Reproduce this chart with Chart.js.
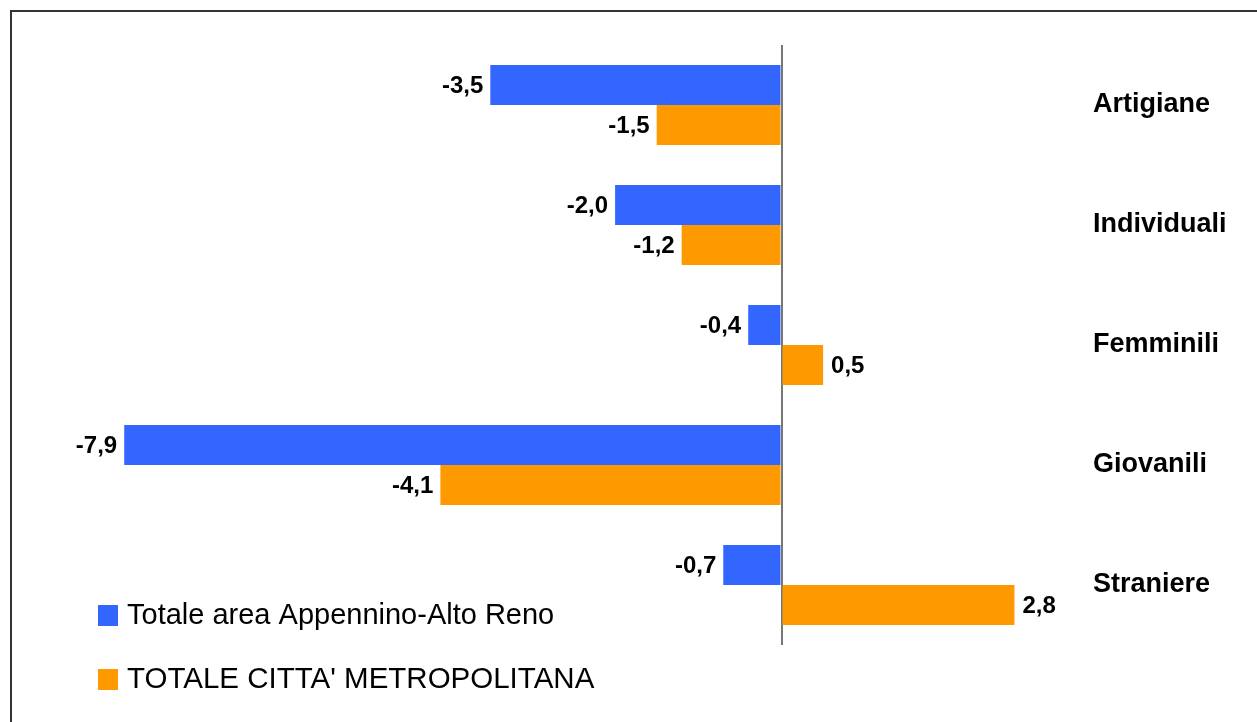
<!DOCTYPE html>
<html>
<head>
<meta charset="utf-8">
<script src="https://cdn.jsdelivr.net/npm/chart.js@4.4.1/dist/chart.umd.min.js"></script>
<style>
html,body{margin:0;padding:0;background:#fff;}
#wrap{position:relative;width:1257px;height:722px;}
canvas{display:block;}
</style>
</head>
<body>
<div id="wrap"><canvas id="c" width="1257" height="722"></canvas></div>
<script>
const categories = ['Artigiane', 'Individuali', 'Femminili', 'Giovanili', 'Straniere'];
const seriesNames = ['Totale area Appennino-Alto Reno', "TOTALE CITTA' METROPOLITANA"];
const areaValues = [-3.5, -2.0, -0.4, -7.9, -0.7];
const metroValues = [-1.5, -1.2, 0.5, -4.1, 2.8];
const colors = ['#3366FF', '#FF9900'];

const FONT = "'Liberation Sans', Arial, sans-serif";

const fmt = v => v.toFixed(1).replace('.', ',');

const framePlugin = {
  id: 'frame',
  beforeDraw(chart) {
    const ctx = chart.ctx;
    ctx.save();
    ctx.fillStyle = '#fff';
    ctx.fillRect(0, 0, chart.width, chart.height);
    ctx.strokeStyle = '#333';
    ctx.lineWidth = 2;
    ctx.beginPath();
    ctx.moveTo(11, chart.height + 5);
    ctx.lineTo(11, 11);
    ctx.lineTo(chart.width + 5, 11);
    ctx.stroke();
    ctx.restore();
  }
};

const labelPlugin = {
  id: 'valueLabels',
  afterDatasetsDraw(chart) {
    const ctx = chart.ctx;
    ctx.save();
    ctx.font = 'bold 24px ' + FONT;
    ctx.fillStyle = '#000';
    ctx.textBaseline = 'middle';
    chart.data.datasets.forEach((ds, di) => {
      const meta = chart.getDatasetMeta(di);
      meta.data.forEach((bar, i) => {
        const v = ds.data[i];
        const p = bar.getProps(['x', 'y', 'base'], true);
        if (v < 0) {
          ctx.textAlign = 'right';
          ctx.fillText(fmt(v), p.x - 7, p.y + 1);
        } else {
          ctx.textAlign = 'left';
          ctx.fillText(fmt(v), p.x + 8, p.y + 1);
        }
      });
    });
    ctx.restore();
  }
};

const legendPlugin = {
  id: 'customLegend',
  afterDraw(chart) {
    const ctx = chart.ctx;
    ctx.save();
    ctx.textBaseline = 'middle';
    ctx.textAlign = 'left';
    const ys = [605, 669];
    const sizes = [29, 29.5];
    chart.data.datasets.forEach((ds, i) => {
      ctx.fillStyle = ds.backgroundColor;
      ctx.fillRect(98, ys[i], 20, 21);
      ctx.fillStyle = '#000';
      ctx.font = sizes[i] + 'px ' + FONT;
      ctx.fillText(ds.label, 127, ys[i] + 11);
    });
    ctx.restore();
  }
};

new Chart(document.getElementById('c'), {
  type: 'bar',
  data: {
    labels: categories,
    datasets: [
      { label: seriesNames[0], data: areaValues, backgroundColor: colors[0], yAxisID: 'y' },
      { label: seriesNames[1], data: metroValues, backgroundColor: colors[1], yAxisID: 'y' }
    ]
  },
  options: {
    indexAxis: 'y',
    responsive: false,
    animation: false,
    devicePixelRatio: 1,
    categoryPercentage: 2 / 3,
    barPercentage: 1,
    layout: { padding: { left: 32.7, top: 45, bottom: 77, right: 0 } },
    plugins: { legend: { display: false }, tooltip: { enabled: false } },
    scales: {
      x: {
        min: -9,
        max: 3.5,
        ticks: { display: false, stepSize: 1 },
        border: { display: false },
        grid: {
          drawTicks: false,
          lineWidth: 2,
          color: c => (c.tick && c.tick.value === 0) ? '#777' : 'rgba(0,0,0,0)'
        }
      },
      y: {
        position: 'right',
        border: { display: false },
        grid: { display: false, drawTicks: false },
        afterFit: s => { s.width = 184.3; },
        ticks: {
          padding: 20.3,
          color: '#000',
          font: { family: FONT, size: 27, weight: 'bold' }
        }
      }
    }
  },
  plugins: [framePlugin, labelPlugin, legendPlugin]
});
</script>
</body>
</html>
